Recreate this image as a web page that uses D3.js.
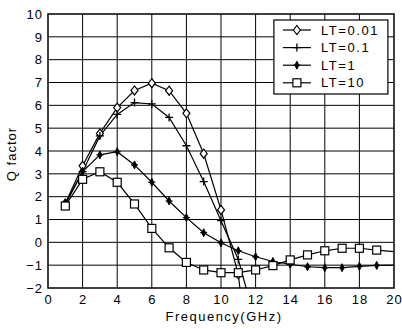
<!DOCTYPE html>
<html>
<head>
<meta charset="utf-8">
<script src="https://cdn.jsdelivr.net/npm/d3@7"></script>
<style>
  body { margin: 0; background: #fff; }
  text { font-family: "Liberation Sans", Arial, sans-serif; fill: #000; }
</style>
</head>
<body>
<div id="chart"></div>
<script>
// data
var freq = [1, 2, 3, 4, 5, 6, 7, 8, 9, 10, 11, 12, 13, 14, 15, 16, 17, 18, 19, 20];
var lt001 = [1.7, 3.35, 4.77, 5.9, 6.65, 6.97, 6.64, 5.65, 3.88, 1.42, -1.4, -8];
var lt01  = [1.65, 3.1, 4.66, 5.6, 6.12, 6.06, 5.47, 4.23, 2.66, 0.95, -0.75, -3.5];
var lt1   = [1.71, 3.1, 3.83, 3.97, 3.39, 2.63, 1.81, 1.08, 0.42, -0.02, -0.37, -0.63, -0.84, -0.96, -1.07, -1.11, -1.11, -1.05, -1.01, -1.0];
var lt10  = [1.59, 2.76, 3.09, 2.63, 1.68, 0.61, -0.24, -0.88, -1.21, -1.33, -1.33, -1.21, -1.02, -0.77, -0.55, -0.37, -0.26, -0.26, -0.34, -0.41];
var seriesNames = ["LT=0.01", "LT=0.1", "LT=1", "LT=10"];
var xTicks = [0, 2, 4, 6, 8, 10, 12, 14, 16, 18, 20];
var yTicks = [-2, -1, 0, 1, 2, 3, 4, 5, 6, 7, 8, 9, 10];

var width = 402, height = 329;
var margin = {top: 14, right: 8, bottom: 41, left: 48};
var w = width - margin.left - margin.right,
    h = height - margin.top - margin.bottom;

var svg = d3.select("#chart").append("svg")
    .attr("width", width)
    .attr("height", height);

var x = d3.scaleLinear().domain([0, 20]).range([0, w]);
var y = d3.scaleLinear().domain([-2, 10]).range([h, 0]);

var g = svg.append("g")
    .attr("transform", "translate(" + margin.left + "," + margin.top + ")");

svg.append("defs").append("clipPath").attr("id", "plotclip")
  .append("rect").attr("width", w).attr("height", h);

// grid
g.selectAll(".vgrid").data(xTicks.slice(1, -1)).enter().append("line")
    .attr("x1", function(d) { return x(d); })
    .attr("x2", function(d) { return x(d); })
    .attr("y1", 0).attr("y2", h)
    .attr("stroke", "#000").attr("stroke-width", 1);
g.selectAll(".hgrid").data(yTicks.slice(1, -1)).enter().append("line")
    .attr("y1", function(d) { return y(d); })
    .attr("y2", function(d) { return y(d); })
    .attr("x1", 0).attr("x2", w)
    .attr("stroke", "#000").attr("stroke-width", 1);

// axes
var xAxis = d3.axisBottom(x).tickValues(xTicks).tickSize(0).tickPadding(7);
var yAxis = d3.axisLeft(y).tickValues(yTicks).tickSize(0).tickPadding(5);

var gx = g.append("g").attr("transform", "translate(0," + h + ")").call(xAxis);
var gy = g.append("g").call(yAxis);
[gx, gy].forEach(function(a) {
  a.select(".domain").remove();
  a.selectAll("text")
    .style("font-size", "13px")
    .style("letter-spacing", "1px")
    .attr("fill", "#000");
});

g.append("rect")
    .attr("width", w).attr("height", h)
    .attr("fill", "none").attr("stroke", "#000").attr("stroke-width", 1.5);

// series
var series = [lt001, lt01, lt1, lt10];
var symbols = ["diamond", "plus", "star", "square"];
var line = d3.line()
    .x(function(d, i) { return x(freq[i]); })
    .y(function(d) { return y(d); });

var plot = g.append("g").attr("clip-path", "url(#plotclip)");

function drawMarker(sel, type) {
  if (type === "diamond") {
    sel.append("path").attr("d", "M0,-4.5L3.5,0L0,4.5L-3.5,0Z")
      .attr("fill", "#fff").attr("stroke", "#000").attr("stroke-width", 1.2);
  } else if (type === "plus") {
    sel.append("path").attr("d", "M-4,0H4M0,-4V4")
      .attr("stroke", "#000").attr("stroke-width", 1.3);
  } else if (type === "star") {
    sel.append("path").attr("d", "M0,-4L2,0L0,4L-2,0Z")
      .attr("fill", "#000").attr("stroke", "#000").attr("stroke-width", 1);
    sel.append("path").attr("d", "M-3.5,0H3.5")
      .attr("stroke", "#000").attr("stroke-width", 1.2);
  } else {
    sel.append("rect").attr("x", -4).attr("y", -4).attr("width", 8).attr("height", 8)
      .attr("fill", "#fff").attr("stroke", "#000").attr("stroke-width", 1.2);
  }
}

series.forEach(function(s, k) {
  plot.append("path")
    .datum(s)
    .attr("d", line)
    .attr("fill", "none")
    .attr("stroke", "#000")
    .attr("stroke-width", 1.2);
});

series.forEach(function(s, k) {
  var pts = s.map(function(v, i) { return {x: freq[i], v: v}; })
    .filter(function(d) { return d.x < 20 && d.v >= -2; });
  plot.selectAll(".m" + k).data(pts).enter().append("g")
    .attr("transform", function(d) { return "translate(" + x(d.x) + "," + y(d.v) + ")"; })
    .each(function() { drawMarker(d3.select(this), symbols[k]); });
});

// legend
var legend = g.append("g").attr("transform", "translate(" + (x(13) + 1) + "," + 6 + ")");
legend.append("rect")
    .attr("width", 114).attr("height", 74)
    .attr("fill", "#fff").attr("stroke", "#000").attr("stroke-width", 1.2);
var items = legend.selectAll(".item").data(seriesNames).enter().append("g")
    .attr("transform", function(d, i) { return "translate(0," + (10 + i * 17.6) + ")"; });
items.append("line").attr("x1", 9).attr("x2", 37).attr("y1", 0).attr("y2", 0)
    .attr("stroke", "#000").attr("stroke-width", 1.2);
items.each(function(d, i) {
  var m = d3.select(this).append("g").attr("transform", "translate(23,0)");
  drawMarker(m, symbols[i]);
});
items.append("text")
    .attr("x", 47).attr("y", 0).attr("dy", "0.36em")
    .style("font-size", "13px")
    .style("letter-spacing", "1.6px")
    .text(function(d) { return d; });

// axis titles
g.append("text")
    .attr("x", w / 2 + 3).attr("y", h + 33)
    .attr("text-anchor", "middle")
    .style("font-size", "13px")
    .style("letter-spacing", "1.5px")
    .text("Frequency(GHz)");

svg.append("text")
    .attr("transform", "translate(16," + (margin.top + h / 2 + 3) + ") rotate(-90)")
    .attr("text-anchor", "middle")
    .style("font-size", "13px")
    .style("letter-spacing", "1px")
    .text("Q factor");
</script>
</body>
</html>
